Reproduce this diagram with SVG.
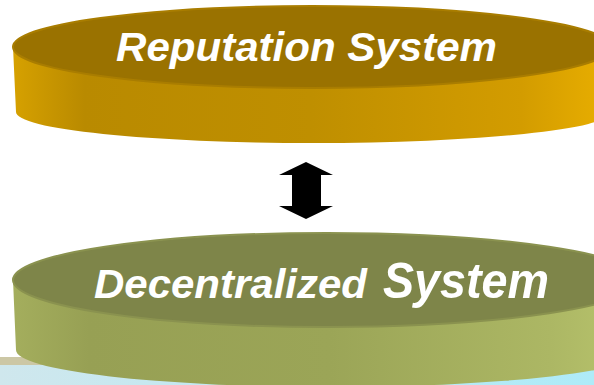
<svg xmlns="http://www.w3.org/2000/svg" width="594" height="385" viewBox="0 0 594 385">
  <style>
    .label { font-family: "Liberation Sans", Arial, sans-serif; font-weight: bold; font-style: italic; fill: #ffffff; }
  </style>
  <defs>
    <linearGradient id="goldSide" gradientUnits="userSpaceOnUse" x1="13" y1="0" x2="611" y2="0">
      <stop offset="0" stop-color="#d6a100"/>
      <stop offset="0.12" stop-color="#b98a00"/>
      <stop offset="0.5" stop-color="#bf8f00"/>
      <stop offset="0.85" stop-color="#d39c00"/>
      <stop offset="1" stop-color="#e9af00"/>
    </linearGradient>
    <linearGradient id="oliveSide" gradientUnits="userSpaceOnUse" x1="13" y1="0" x2="645" y2="0">
      <stop offset="0" stop-color="#a4ae5d"/>
      <stop offset="0.12" stop-color="#97a054"/>
      <stop offset="0.5" stop-color="#9ba557"/>
      <stop offset="0.85" stop-color="#acb764"/>
      <stop offset="1" stop-color="#bac66e"/>
    </linearGradient>
    <linearGradient id="floor" x1="0" y1="0" x2="1" y2="0">
      <stop offset="0" stop-color="#cfe7ed"/>
      <stop offset="1" stop-color="#aeebf8"/>
    </linearGradient>
  </defs>

  <!-- backdrop strip behind the lower disc -->
  <rect x="0" y="0" width="594" height="385" fill="#ffffff"/>
  <rect x="0" y="357" width="594" height="9" fill="#ccc7a5"/>
  <rect x="0" y="365" width="594" height="20" fill="url(#floor)"/>

  <!-- upper disc -->
  <g id="reputation-system">
    <path d="M13,47 L16,112 A297 31 0 0 0 611,112 L611,47 Z" fill="url(#goldSide)"/>
    <ellipse cx="312" cy="47" rx="299" ry="41" fill="#9a7200" stroke="#a97d00" stroke-width="2"/>
    <text class="label" x="116" y="61" font-size="40" textLength="381" lengthAdjust="spacingAndGlyphs">Reputation System</text>
  </g>

  <!-- lower disc -->
  <g id="decentralized-system">
    <path d="M13,280 L16,350 A314 37 0 0 0 645,350 L641,280 Z" fill="url(#oliveSide)"/>
    <ellipse cx="327" cy="280" rx="314" ry="47" fill="#7e8549" stroke="#8a924f" stroke-width="2"/>
    <text class="label" y="298">
      <tspan x="94" font-size="41" textLength="273" lengthAdjust="spacingAndGlyphs">Decentralized</tspan>
      <tspan x="383" font-size="50" textLength="166" lengthAdjust="spacingAndGlyphs">System</tspan>
    </text>
  </g>

  <!-- two-way link between the discs -->
  <g id="connectors">
    <polygon points="306,162 333,175 321,175 321,206 333,206 306,219 279,206 292,206 292,175 279,175" fill="#000000"/>
  </g>
</svg>
